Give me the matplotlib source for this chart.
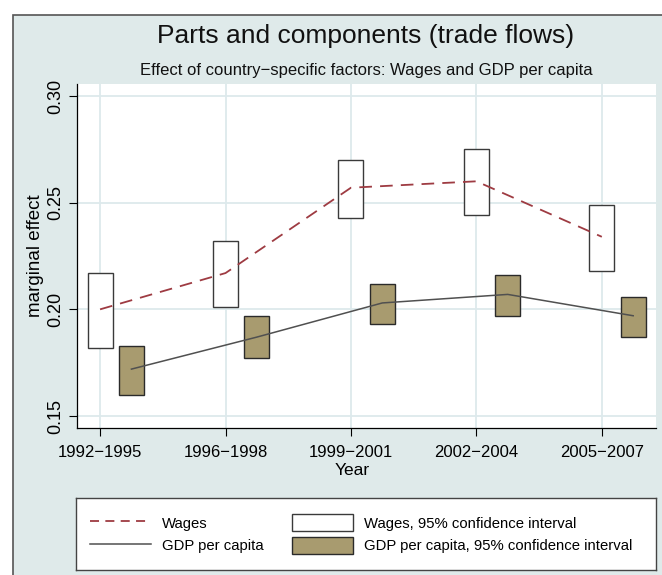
import numpy as np
from matplotlib import pyplot as plt
from matplotlib.patches import Rectangle, Patch
from matplotlib.lines import Line2D

# period labels on the x axis
periods = ['1992\u22121995', '1996\u22121998', '1999\u22122001', '2002\u22122004', '2005\u22122007']

# marginal effect of wages, with 95% CI
wages = [0.200, 0.217, 0.257, 0.260, 0.234]
wages_lo = [0.182, 0.201, 0.243, 0.244, 0.218]
wages_hi = [0.217, 0.232, 0.270, 0.275, 0.249]

# marginal effect of GDP per capita, with 95% CI
gdp = [0.172, 0.187, 0.203, 0.207, 0.197]
gdp_lo = [0.160, 0.177, 0.193, 0.197, 0.187]
gdp_hi = [0.183, 0.197, 0.212, 0.216, 0.206]

yticks = [0.15, 0.20, 0.25, 0.30]

plt.rcParams['font.family'] = ['Liberation Sans', 'DejaVu Sans']

W, H = 662, 575
bg = '#dfeaea'
grid_col = '#dde9ec'
red = '#9e3b42'
gray = '#505050'
tan = '#a89b6f'

fig = plt.figure(figsize=(W / 100, H / 100), dpi=100)
fig.patch.set_facecolor('white')

#outer graph region (cropped on the right and bottom)
fig.add_artist(Rectangle((12.5 / W, -0.1), 1.2, (H - 15) / H + 0.1, transform=fig.transFigure,
                         facecolor=bg, edgecolor='#555555', lw=1.2, zorder=0))

ax = fig.add_axes([77 / W, 1 - 428 / H, (656 - 77) / W, (428 - 84) / H])
ax.set_facecolor('white')

x = np.arange(1, len(periods) + 1)
off = 0.25
bw = 0.2

w_lo = np.array(wages_lo)
w_hi = np.array(wages_hi)
g_lo = np.array(gdp_lo)
g_hi = np.array(gdp_hi)

ax.bar(x, w_hi - w_lo, bottom=w_lo, width=bw, facecolor='white', edgecolor='#3a3a3a', lw=1, zorder=3)
ax.bar(x + off, g_hi - g_lo, bottom=g_lo, width=bw, facecolor=tan, edgecolor='#2a2a2a', lw=1, zorder=3)
ax.plot(x, wages, color=red, lw=1.3, ls=(0, (7, 4.5)), zorder=4)
ax.plot(x + off, gdp, color=gray, lw=1.1, zorder=4)

ax.set_xlim(0.816, 5.432)
ax.set_ylim(0.1444, 0.3056)
ax.set_xticks(x)
ax.set_xticklabels(periods, fontsize=12)
ax.set_yticks(yticks)
ax.set_yticklabels(['%.2f' % v for v in yticks], fontsize=13, rotation=90, va='center')
ax.tick_params(axis='x', length=6, width=0.8, pad=6)
ax.tick_params(axis='y', length=6, width=0.8, pad=3)
ax.grid(True, color=grid_col, lw=1.3, zorder=0)
ax.set_axisbelow(True)
for s in ['top', 'right']:
    ax.spines[s].set_visible(False)
ax.spines['left'].set_linewidth(0.9)
ax.spines['bottom'].set_linewidth(0.9)

ax.set_xlabel('Year', fontsize=12.5)
ax.xaxis.set_label_coords(0.475, -0.124)
ax.xaxis.label.set_va('center')
ax.set_ylabel('marginal effect', fontsize=13.5)
ax.yaxis.set_label_coords(-0.0725, 0.5)
ax.yaxis.label.set_va('center')

fig.text(366 / W, 1 - 36 / H, 'Parts and components (trade flows)', fontsize=19,
         ha='center', va='center', color='#111111')
fig.text(366 / W, 1 - 70 / H, 'Effect of country\u2212specific factors: Wages and GDP per capita',
         fontsize=12, ha='center', va='center', color='#111111')

# legend box
lax = fig.add_axes([76 / W, 1 - 570 / H, 580 / W, 72 / H])
lax.set_facecolor('white')
lax.set_xticks([])
lax.set_yticks([])
for s in lax.spines.values():
    s.set_color('#444444')
    s.set_linewidth(1)

handles = [
    Line2D([], [], color=red, lw=1.3, ls=(0, (5, 3.5))),
    Line2D([], [], color=gray, lw=1.1),
    Patch(facecolor='white', edgecolor='#3a3a3a', lw=1),
    Patch(facecolor=tan, edgecolor='#2a2a2a', lw=1),
]
labels = ['Wages', 'GDP per capita', 'Wages, 95% confidence interval',
          'GDP per capita, 95% confidence interval']
lax.legend(handles, labels, ncol=2, loc='center left', bbox_to_anchor=(0.024, 0.5),
           frameon=False, fontsize=10.7, handlelength=4.1, handleheight=1.3,
           handletextpad=0.75, columnspacing=1.9, labelspacing=0.45,
           borderpad=0, borderaxespad=0)

fig.savefig('out.png', dpi=100)
